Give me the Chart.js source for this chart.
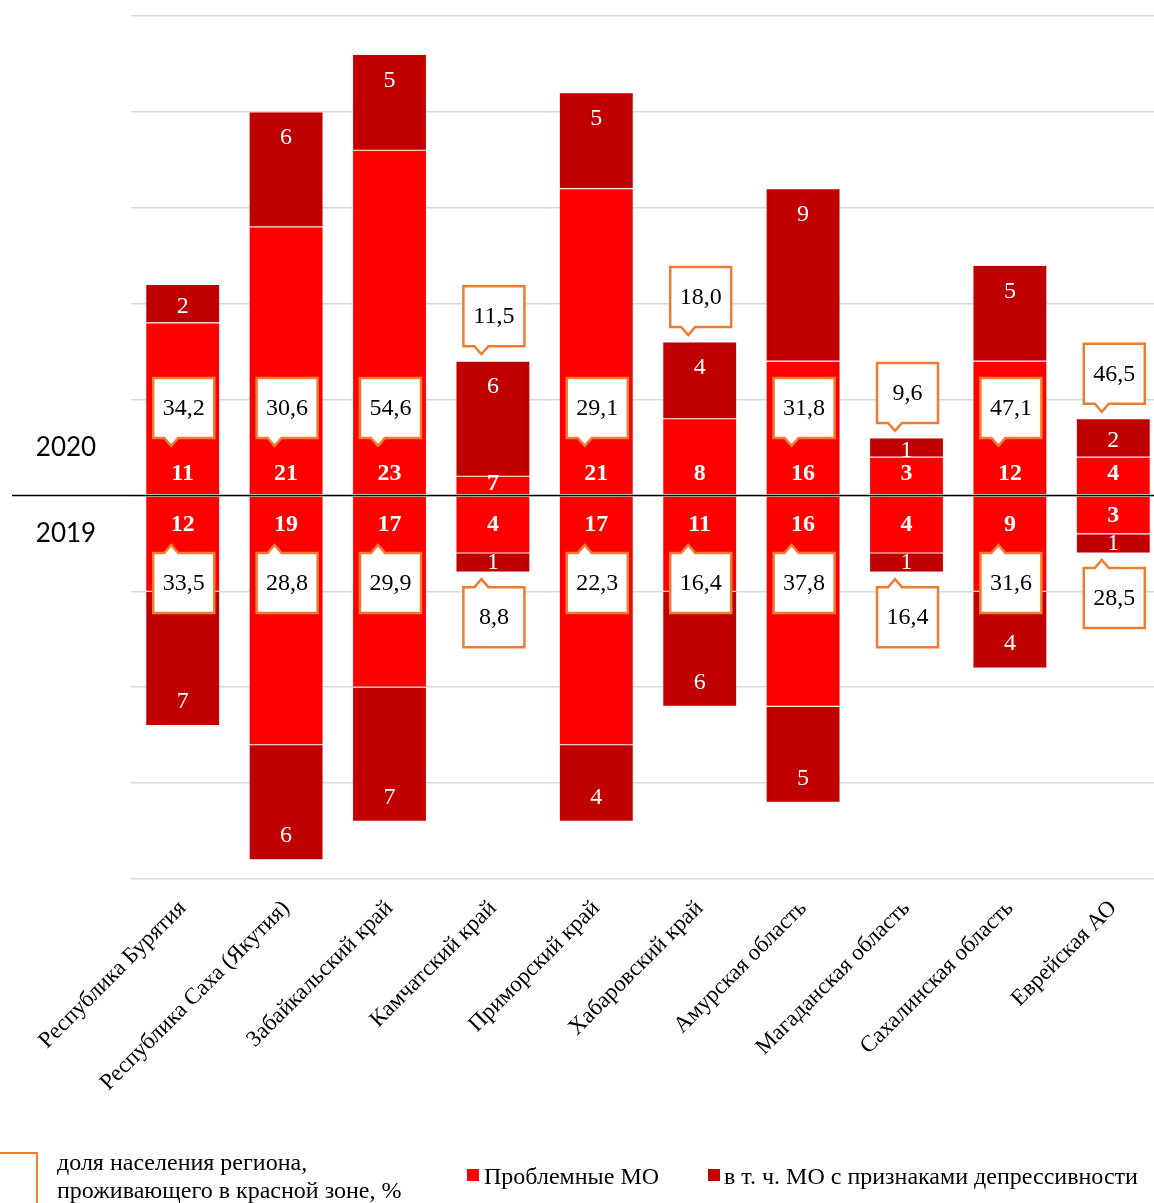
<!DOCTYPE html>
<html lang="ru">
<head>
<meta charset="utf-8">
<title>Проблемные МО</title>
<script src="https://cdn.jsdelivr.net/npm/chart.js@4.4.1/dist/chart.umd.min.js"></script>
<style>
  html, body { margin: 0; padding: 0; background: #fff; overflow: hidden; }
  #wrap { position: relative; width: 1154px; height: 1203px; overflow: hidden; }
  #chart { position: absolute; left: 0; top: 0; }
  .leg { position: absolute; font-family: "Liberation Serif", "Times New Roman", serif; font-size: 24px; color: #000; white-space: nowrap; line-height: 28px; }
  .sq { position: absolute; width: 12px; height: 12px; }
  #callbox { position: absolute; left: -28px; top: 1152px; width: 66px; height: 60px; border: 2.5px solid #ED7D31; box-sizing: border-box; }
</style>
</head>
<body>
<div id="wrap">
  <canvas id="chart" width="1166" height="1203"></canvas>
  <div id="callbox"></div>
  <div class="leg" style="left:57px; top:1148px;">доля населения региона,<br>проживающего в красной зоне, %</div>
  <div class="sq" style="left:467px; top:1169px; background:#FF0000;"></div>
  <div class="leg" style="left:484px; top:1162px;">Проблемные МО</div>
  <div class="sq" style="left:708px; top:1169px; background:#C00000;"></div>
  <div class="leg" style="left:724px; top:1162px;">в т. ч. МО с признаками депрессивности</div>
</div>
<script>
const RED = '#FF0000'
const DARK = '#C00000'
const ORANGE = '#ED7D31'

const regions = [
  'Республика Бурятия', 'Республика Саха (Якутия)', 'Забайкальский край', 'Камчатский край',
  'Приморский край', 'Хабаровский край', 'Амурская область', 'Магаданская область',
  'Сахалинская область', 'Еврейская АО'
]

// 2020: bright part of the bar (problem MO without depressive ones) and dark part
const otherProblem2020 = [9, 14, 18, 1, 16, 4, 7, 2, 7, 2]
const depressive2020 = [2, 6, 5, 6, 5, 4, 9, 1, 5, 2]
const problemLabels2020 = [11, 21, 23, 7, 21, 8, 16, 3, 12, 4]
const share2020 = [34.2, 30.6, 54.6, 11.5, 29.1, 18.0, 31.8, 9.6, 47.1, 46.5]

// 2019
const otherProblem2019 = [5, 13, 10, 3, 13, 5, 11, 3, 5, 2]
const depressive2019 = [7, 6, 7, 1, 4, 6, 5, 1, 4, 1]
const problemLabels2019 = [12, 19, 17, 4, 17, 11, 16, 4, 9, 3]
const share2019 = [33.5, 28.8, 29.9, 8.8, 22.3, 16.4, 37.8, 16.4, 31.6, 28.5]

const SERIF = '"Liberation Serif", "Times New Roman", serif'

const fmt = (v) => v.toFixed(1).replace('.', ',')

const drawCallout = (ctx, cx, edge, dir, text) => {
  // dir -1: box sits above edge, pointer at bottom; dir 1: box below edge, pointer at top
  const w = 61, h = 60, nw = 7, nd = 8
  const left = cx - w / 2, right = cx + w / 2
  const nx = left + 18
  const top = dir < 0 ? edge - h : edge
  const bottom = top + h
  ctx.beginPath()
  if (dir < 0) {
    ctx.moveTo(left, top); ctx.lineTo(right, top); ctx.lineTo(right, bottom)
    ctx.lineTo(nx + nw, bottom); ctx.lineTo(nx, bottom + nd); ctx.lineTo(nx - nw, bottom)
    ctx.lineTo(left, bottom)
  } else {
    ctx.moveTo(left, bottom); ctx.lineTo(left, top); ctx.lineTo(nx - nw, top)
    ctx.lineTo(nx, top - nd); ctx.lineTo(nx + nw, top); ctx.lineTo(right, top)
    ctx.lineTo(right, bottom)
  }
  ctx.closePath()
  ctx.fillStyle = '#fff'
  ctx.fill()
  ctx.strokeStyle = ORANGE
  ctx.lineWidth = 2.5
  ctx.stroke()
  ctx.fillStyle = '#000'
  ctx.font = '24px ' + SERIF
  ctx.fillText(text, cx, (top + bottom) / 2 + 1)
}

const labelsPlugin = {
  id: 'barLabels',
  afterDatasetsDraw(chart) {
    const ctx = chart.ctx
    const yS = chart.scales.y
    const zero = yS.getPixelForValue(0)
    ctx.save()
    ctx.strokeStyle = '#000'
    ctx.lineWidth = 1.5
    ctx.beginPath()
    ctx.moveTo(12, zero)
    ctx.lineTo(chart.width, zero)
    ctx.stroke()

    ctx.textAlign = 'center'
    ctx.textBaseline = 'middle'
    ctx.fillStyle = '#000'
    ctx.font = '26px Lato, "Open Sans", sans-serif'
    ctx.fillText('2020', 66, zero - 48)
    ctx.fillText('2019', 66, zero + 38)

    const m0 = chart.getDatasetMeta(0).data
    const m1 = chart.getDatasetMeta(1).data
    const m2 = chart.getDatasetMeta(2).data
    const m3 = chart.getDatasetMeta(3).data

    regions.forEach((r, i) => {
      ctx.fillStyle = '#fff'
      // 2020 bold total near the zero line
      let el = m0[i]
      let h = el.base - el.y
      ctx.font = 'bold 24px ' + SERIF
      ctx.fillText(problemLabels2020[i], el.x, el.base - Math.min(21, h / 2 + 2))
      // 2020 depressive
      el = m1[i]
      h = el.base - el.y
      ctx.font = '24px ' + SERIF
      ctx.fillText(depressive2020[i], el.x, el.y + Math.min(26, h / 2 + 3))
      // 2019 bold total
      el = m2[i]
      h = el.y - el.base
      ctx.font = 'bold 24px ' + SERIF
      ctx.fillText(problemLabels2019[i], el.x, el.base + Math.min(29, h / 2 + 1))
      // 2019 depressive
      el = m3[i]
      h = el.y - el.base
      ctx.font = '24px ' + SERIF
      ctx.fillText(depressive2019[i], el.x, el.y - Math.min(24, h / 2))
    })

    regions.forEach((r, i) => {
      const top = m1[i].y
      const edge20 = problemLabels2020[i] >= 9 ? yS.getPixelForValue(3) : top - 15
      drawCallout(ctx, m1[i].x + 1, edge20, -1, fmt(share2020[i]))
      const bottom = m3[i].y
      const edge19 = problemLabels2019[i] >= 9 ? yS.getPixelForValue(-3) : bottom + 15
      drawCallout(ctx, m3[i].x + 1, edge19, 1, fmt(share2019[i]))
    })
    ctx.restore()
  }
}

const barStyle = { stack: 's', borderWidth: 0.6, borderColor: 'rgba(255,170,170,0.35)', borderSkipped: false }

new Chart(document.getElementById('chart'), {
  type: 'bar',
  data: {
    labels: regions,
    datasets: [
      { label: 'Проблемные МО 2020', data: otherProblem2020, backgroundColor: RED, ...barStyle },
      { label: 'в т. ч. МО с признаками депрессивности 2020', data: depressive2020, backgroundColor: DARK, ...barStyle },
      { label: 'Проблемные МО 2019', data: otherProblem2019.map(v => -v), backgroundColor: RED, ...barStyle },
      { label: 'в т. ч. МО с признаками депрессивности 2019', data: depressive2019.map(v => -v), backgroundColor: DARK, ...barStyle }
    ]
  },
  options: {
    responsive: false,
    animation: false,
    layout: { padding: { left: 131, top: 16, right: 1, bottom: 0 } },
    plugins: { legend: { display: false }, tooltip: { enabled: false } },
    datasets: { bar: { categoryPercentage: 1, barPercentage: 0.716 } },
    scales: {
      x: {
        stacked: true,
        grid: { display: false },
        border: { display: false },
        ticks: {
          minRotation: 45, maxRotation: 45, padding: 8, color: '#000',
          font: { family: SERIF, size: 23 }
        },
        afterFit: (s) => { s.height = 324 }
      },
      y: {
        stacked: true,
        min: -20,
        max: 25,
        ticks: { display: false, stepSize: 5 },
        grid: { color: '#d9d9d9', lineWidth: 1.5, drawTicks: false },
        border: { display: false }
      }
    }
  },
  plugins: [labelsPlugin]
})
</script>
</body>
</html>
